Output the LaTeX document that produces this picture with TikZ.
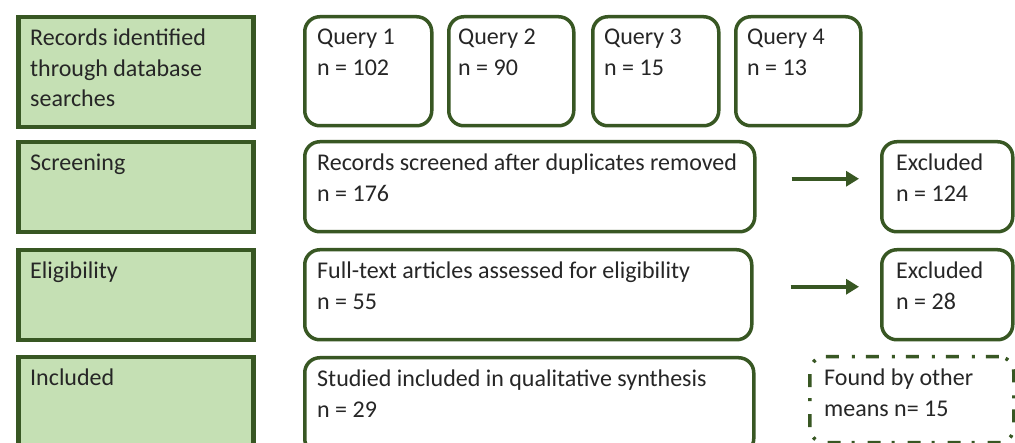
\documentclass[tikz,border=0pt]{standalone}
\usepackage{fontspec}
\setmainfont{Carlito}
\usetikzlibrary{calc,arrows.meta}
\definecolor{dkgreen}{HTML}{385723}
\definecolor{ltgreen}{HTML}{C5E0B4}
\definecolor{txtcol}{HTML}{262626}
\tikzset{
  gbox/.style={draw=dkgreen, fill=ltgreen, line width=4.5pt, anchor=north west, inner sep=0pt},
  rbox/.style={draw=dkgreen, fill=white, line width=3.5pt, rounded corners=15pt, anchor=north west, inner sep=0pt},
  dbox/.style={draw=dkgreen, line width=3.5pt, rounded corners=15pt, anchor=north west, inner sep=0pt,
    dash pattern=on 13pt off 11pt on 3pt off 13pt},
  lbl/.style={anchor=north west, inner sep=0pt, align=left, text=txtcol,
    font=\fontsize{24}{30.5}\selectfont},
  arr/.style={draw=dkgreen, line width=4pt, -{Triangle[length=13pt,width=15pt]}},
}
\begin{document}
\begin{tikzpicture}[x=1pt,y=-1pt]
\clip (0,0) rectangle (1015,443);
\fill[white] (0,0) rectangle (1015,443);
% left stage boxes
\node[gbox, minimum width=235pt, minimum height=110pt] (g1) at (16,15) {};
\node[gbox, minimum width=235pt, minimum height=90pt] (g2) at (16,140) {};
\node[gbox, minimum width=235pt, minimum height=90pt] (g3) at (16,248) {};
\node[gbox, minimum width=235pt, minimum height=110pt] (g4) at (16,355) {};
\node[lbl] (tg1) at ($(g1.north west)+(14,14)$) {Records identified\\through database\\searches};
\node[lbl] (tg2) at ($(g2.north west)+(14,14)$) {Screening};
\node[lbl] (tg3) at ($(g3.north west)+(14,14)$) {Eligibility};
\node[lbl] (tg4) at ($(g4.north west)+(14,14)$) {Included};
% query boxes
\node[rbox, minimum width=127pt, minimum height=109pt] (q1) at (303,15) {};
\node[rbox, minimum width=125pt, minimum height=109pt] (q2) at (447,15) {};
\node[rbox, minimum width=126pt, minimum height=109pt] (q3) at (591,15) {};
\node[rbox, minimum width=125pt, minimum height=109pt] (q4) at (734,15) {};
\node[lbl] (tq1) at ($(q1.north west)+(14,14)$) {Query 1\\n = 102};
\node[lbl] (tq2) at ($(q2.north west)+(11,14)$) {Query 2\\n = 90};
\node[lbl] (tq3) at ($(q3.north west)+(13,14)$) {Query 3\\n = 15};
\node[lbl] (tq4) at ($(q4.north west)+(13,14)$) {Query 4\\n = 13};
% main column
\node[rbox, minimum width=450pt, minimum height=90pt] (s) at (303,140) {};
\node[rbox, minimum width=447pt, minimum height=90pt] (el) at (303,248) {};
\node[rbox, minimum width=449pt, minimum height=96pt] (st) at (303,356) {};
\node[lbl] (ts) at ($(s.north west)+(14,14)$) {Records screened after duplicates removed\\n = 176};
\node[lbl] (tel) at ($(el.north west)+(14,14)$) {Full-text articles assessed for eligibility\\n = 55};
\node[lbl] (tst) at ($(st.north west)+(14,14)$) {Studied included in qualitative synthesis\\n = 29};
% excluded boxes
\node[rbox, minimum width=131pt, minimum height=90pt] (e1) at (880,140) {};
\node[rbox, minimum width=131pt, minimum height=90pt] (e2) at (880,248) {};
\node[lbl] (te1) at ($(e1.north west)+(16,14)$) {Excluded\\n = 124};
\node[lbl] (te2) at ($(e2.north west)+(16,14)$) {Excluded\\n = 28};
% other means
\node[dbox, minimum width=204pt, minimum height=86pt] (f) at (808,355) {};
\node[lbl] (tf) at ($(f.north west)+(16,14)$) {Found by other\\means n= 15};
% arrows
\draw[arr] ($(s.east)+(35,-8)$) -- ($(e1.west)+(-21,-8)$);
\draw[arr] ($(el.east)+(37,-8)$) -- ($(e2.west)+(-21,-8)$);
\end{tikzpicture}
\end{document}
